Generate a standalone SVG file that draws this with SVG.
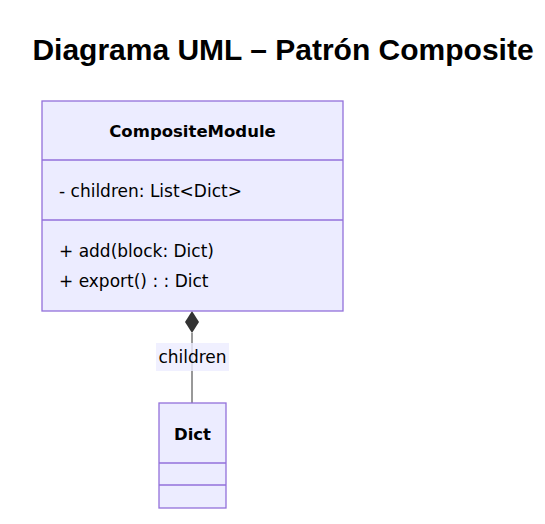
<svg xmlns="http://www.w3.org/2000/svg" width="545" height="524" viewBox="0 0 545 524">
<style>
.box{fill:#ECECFF;stroke:#9370DB;stroke-width:1.3}
.div{stroke:#9370DB;stroke-width:1.3}
.t{font-family:"DejaVu Sans",Verdana,sans-serif;font-size:17px;fill:#000}
.b{font-weight:bold;text-anchor:middle;font-size:16.5px}
.title{font-family:"Liberation Sans",Arial,sans-serif;font-size:30px;font-weight:bold;text-anchor:middle;fill:#000}
</style>
<rect width="545" height="524" fill="#fff"/>
<text class="title" x="283" y="60">Diagrama UML – Patrón Composite</text>
<g id="connectors">
<line x1="192" y1="333" x2="192" y2="403" stroke="#333" stroke-width="1"/>
<polygon points="192,311 199,322 192,333 185,322" fill="#333"/>
<rect x="156" y="343" width="73" height="28" fill="#ECECFF" opacity="0.8"/>
<text class="t" x="192.5" y="363" text-anchor="middle">children</text>
</g>
<g id="CompositeModule">
<rect class="box" x="42" y="101" width="301" height="210"/>
<line class="div" x1="42" y1="160" x2="343" y2="160"/>
<line class="div" x1="42" y1="220" x2="343" y2="220"/>
<text class="t b" x="192.5" y="137">CompositeModule</text>
<text class="t" x="59" y="197">- children: List&lt;Dict&gt;</text>
<text class="t" x="59" y="257">+ add(block: Dict)</text>
<text class="t" x="59" y="287">+ export() : : Dict</text>
</g>
<g id="Dict">
<rect class="box" x="159" y="403" width="67" height="105"/>
<line class="div" x1="159" y1="463" x2="226" y2="463"/>
<line class="div" x1="159" y1="485" x2="226" y2="485"/>
<text class="t b" x="192.5" y="440">Dict</text>
</g>
</svg>
